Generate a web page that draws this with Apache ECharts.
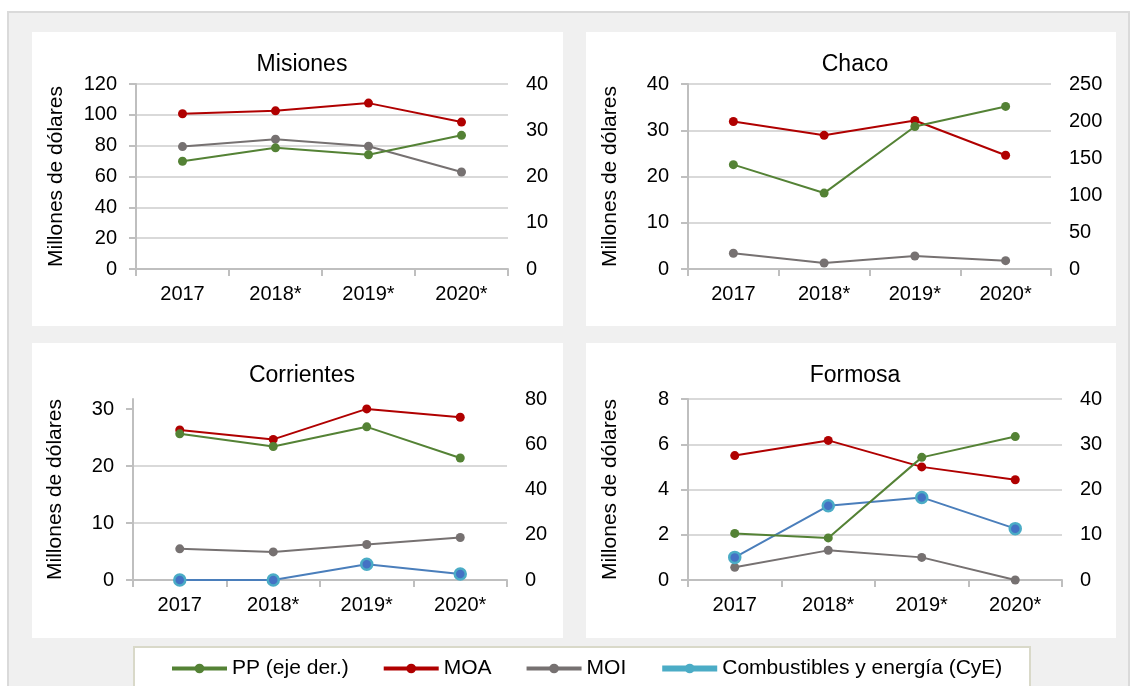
<!DOCTYPE html>
<html>
<head>
<meta charset="utf-8">
<script src="https://cdn.jsdelivr.net/npm/echarts@6/dist/echarts.min.js"></script>
<style>
html,body{margin:0;padding:0;background:#fff;}
#c{width:1130px;height:686px;}
</style>
</head>
<body>
<div id="c"></div>
<script>
// ---------- data ----------
const years = ['2017', '2018*', '2019*', '2020*'];
const seriesNames = ['PP (eje der.)', 'MOA', 'MOI', 'Combustibles y energía (CyE)'];
const panelTitles = ['Misiones', 'Chaco', 'Corrientes', 'Formosa'];

const misionesPP  = [23.3, 26.2, 24.7, 28.9];
const misionesMOA = [100.7, 102.6, 107.6, 95.3];
const misionesMOI = [79.4, 84.2, 79.6, 62.9];

const chacoPP  = [141, 102.6, 192.6, 219.7];
const chacoMOA = [31.9, 28.9, 32.1, 24.6];
const chacoMOI = [3.4, 1.3, 2.8, 1.8];

const corrientesPP  = [64.6, 59.0, 67.7, 53.9];
const corrientesMOA = [26.35, 24.7, 30.06, 28.6];
const corrientesMOI = [5.47, 4.94, 6.24, 7.47];
const corrientesCyE = [0, 0, 2.76, 1.06];

const formosaPP  = [10.3, 9.3, 27.1, 31.7];
const formosaMOA = [5.5, 6.17, 5.0, 4.43];
const formosaMOI = [0.56, 1.31, 1.0, 0];
const formosaCyE = [1.0, 3.28, 3.65, 2.27];

// axis ranges [max, interval] left / right
const leftAxes  = [[120, 20], [40, 10], [31.8, 10], [8, 2]];
const rightAxes = [[40, 10], [250, 50], [80, 20], [40, 10]];

// ---------- layout ----------
const grids = [
  {left: 136, top: 84, width: 372, height: 185},
  {left: 688, top: 84, width: 363, height: 185},
  {left: 133, top: 399, width: 374, height: 181},
  {left: 688, top: 399, width: 374, height: 181}
];
const boxes = [
  [32, 32, 531, 294], [586, 32, 530, 294],
  [32, 343, 531, 295], [586, 343, 530, 295]
];
const titleCenters = [[297, 48], [850, 48], [297, 359], [850, 359]];
const nameGaps = [69, 67, 67, 67];

const FONT = "'Liberation Sans', Arial, sans-serif";
const colors = {pp: '#548235', moa: '#b00000', moi: '#767171', cye: '#4a7ebb'};

const chart = echarts.init(document.getElementById('c'), null, {renderer: 'canvas'});

const xAxes = [], yAxes = [], series = [], titles = [];
for (let i = 0; i < 4; i++) {
  titles.push({
    text: panelTitles[i], left: titleCenters[i][0], top: titleCenters[i][1], textAlign: 'center',
    textStyle: {fontFamily: FONT, fontSize: 23, fontWeight: 'normal', color: '#000'}
  });
  xAxes.push({
    type: 'category', gridIndex: i, data: years, boundaryGap: true,
    axisLine: {show: true, lineStyle: {color: '#bfbfbf', width: 2}},
    axisTick: {show: true, length: 7, interval: 0, lineStyle: {color: '#bfbfbf', width: 2}},
    axisLabel: {fontFamily: FONT, fontSize: 20, color: '#000', margin: 15, interval: 0},
    splitLine: {show: false}
  });
  const isC = (i === 2);
  yAxes.push({
    type: 'value', gridIndex: i, position: 'left', min: 0,
    max: leftAxes[i][0], interval: leftAxes[i][1],
    name: 'Millones de dólares', nameLocation: 'middle', nameGap: nameGaps[i],
    nameTextStyle: {fontFamily: FONT, fontSize: 21, color: '#000'},
    axisLine: {show: true, lineStyle: {color: '#bfbfbf', width: 2}},
    axisTick: isC ? {show: true, length: 7, lineStyle: {color: '#bfbfbf', width: 2}, customValues: [0, 10, 20, 30]}
                 : {show: true, length: 7, lineStyle: {color: '#bfbfbf', width: 2}},
    axisLabel: {fontFamily: FONT, fontSize: 20, color: '#000', margin: 19, showMaxLabel: !isC},
    splitLine: {show: true, showMaxLine: !isC, lineStyle: {color: '#d9d9d9', width: 2}}
  });
  yAxes.push({
    type: 'value', gridIndex: i, position: 'right', min: 0,
    max: rightAxes[i][0], interval: rightAxes[i][1],
    axisLine: {show: false}, axisTick: {show: false},
    axisLabel: {fontFamily: FONT, fontSize: 20, color: '#000', margin: 18},
    splitLine: {show: false}
  });
}

function lineSeries(name, data, gi, right, color) {
  return {
    name: name, type: 'line', data: data,
    xAxisIndex: gi, yAxisIndex: gi * 2 + (right ? 1 : 0),
    symbol: 'circle', symbolSize: 9, showSymbol: true,
    lineStyle: {color: color, width: 2},
    itemStyle: {color: color},
    emphasis: {disabled: true}, animation: false
  };
}
function cyeSeries(data, gi) {
  return {
    name: seriesNames[3], type: 'line', data: data,
    xAxisIndex: gi, yAxisIndex: gi * 2,
    symbol: 'circle', symbolSize: 11,
    lineStyle: {color: colors.cye, width: 2},
    itemStyle: {color: '#4472c4', borderColor: '#4bacc6', borderWidth: 2.5},
    emphasis: {disabled: true}, animation: false
  };
}

const ppData  = [misionesPP, chacoPP, corrientesPP, formosaPP];
const moaData = [misionesMOA, chacoMOA, corrientesMOA, formosaMOA];
const moiData = [misionesMOI, chacoMOI, corrientesMOI, formosaMOI];
for (let i = 0; i < 4; i++) {
  series.push(lineSeries(seriesNames[2], moiData[i], i, false, colors.moi));
  if (i === 2) series.push(cyeSeries(corrientesCyE, i));
  if (i === 3) series.push(cyeSeries(formosaCyE, i));
  series.push(lineSeries(seriesNames[1], moaData[i], i, false, colors.moa));
  series.push(lineSeries(seriesNames[0], ppData[i], i, true, colors.pp));
}

const graphics = [
  {type: 'rect', shape: {x: 8, y: 12, width: 1121, height: 700}, style: {fill: '#f0f0f0', stroke: '#dadada', lineWidth: 2}, z: -100, silent: true}
];
boxes.forEach(b => graphics.push({type: 'rect', shape: {x: b[0], y: b[1], width: b[2], height: b[3]}, style: {fill: '#fff'}, z: -90, silent: true}));
graphics.push({type: 'rect', shape: {x: 134, y: 647, width: 896, height: 60}, style: {fill: '#fff', stroke: '#d9d9c9', lineWidth: 2}, z: -90, silent: true});

chart.setOption({
  animation: false,
  backgroundColor: '#fff',
  title: titles,
  grid: grids,
  xAxis: xAxes,
  yAxis: yAxes,
  series: series,
  graphic: {elements: graphics},
  legend: {
    left: 165, top: 653, itemWidth: 55, itemHeight: 12, itemGap: 33,
    textStyle: {fontFamily: FONT, fontSize: 21, color: '#000'},
    lineStyle: {width: 4},
    data: [
      {name: seriesNames[0]},
      {name: seriesNames[1]},
      {name: seriesNames[2]},
      {name: seriesNames[3], lineStyle: {width: 6, color: '#4bacc6'}, itemStyle: {color: '#4bacc6', borderWidth: 0}}
    ]
  }
});
</script>
</body>
</html>
